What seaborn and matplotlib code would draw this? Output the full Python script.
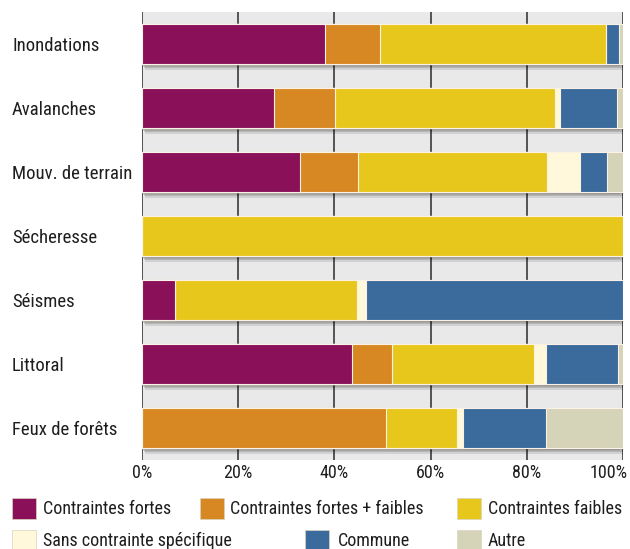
import matplotlib
matplotlib.use("Agg")
import matplotlib.pyplot as plt
from matplotlib import font_manager
from matplotlib.patches import Rectangle
from matplotlib.transforms import ScaledTranslation
import matplotlib.patheffects as pe
import numpy as np
import pandas as pd
import seaborn as sns

# Share of each constraint type by natural hazard (%)
categories = ["Inondations", "Avalanches", "Mouv. de terrain", "Sécheresse",
              "Séismes", "Littoral", "Feux de forêts"]
contraintes_fortes = [38.0, 27.4, 32.8, 0.0, 6.9, 43.7, 0.0]
contraintes_fortes_faibles = [11.4, 12.7, 12.1, 0.0, 0.0, 8.3, 50.7]
contraintes_faibles = [47.1, 45.7, 39.2, 100.0, 37.8, 29.4, 14.7]
sans_contrainte = [0.0, 1.0, 7.0, 0.0, 1.8, 2.5, 1.3]
commune = [2.7, 12.0, 5.6, 0.0, 53.5, 15.1, 17.2]
autre = [0.8, 1.2, 3.3, 0.0, 0.0, 1.0, 16.1]

series_names = ["Contraintes fortes", "Contraintes fortes + faibles",
                "Contraintes faibles", "Sans contrainte spécifique",
                "Commune", "Autre"]
series_values = [contraintes_fortes, contraintes_fortes_faibles,
                 contraintes_faibles, sans_contrainte, commune, autre]
series_colors = ["#8a1059", "#d88823", "#e8c71c", "#fff8da", "#3b6a9d", "#d5d3b8"]
tick_values = [0, 20, 40, 60, 80, 100]
tick_labels = ["0%", "20%", "40%", "60%", "80%", "100%"]

sns.set_theme(style="white")


def pick_font(cands):
    names = {f.name for f in font_manager.fontManager.ttflist}
    for c in cands:
        if c in names:
            return c
    return "DejaVu Sans"


font = pick_font(["Liberation Sans Narrow", "Roboto Condensed", "Lato", "Roboto", "DejaVu Sans"])
plt.rcParams["font.family"] = [font, "DejaVu Sans"]
text_color = "#1e1e1e"

W, H = 630, 549
fig = plt.figure(figsize=(W / 100, H / 100), dpi=100)
fig.patch.set_facecolor("white")
ax = fig.add_axes([142 / W, 1 - 460 / H, (623 - 142) / W, (460 - 12) / H])
ax.set_facecolor("#e9e9e9")

df = pd.DataFrame({"cat": categories})
cum = np.zeros(len(categories))
cum_cols = []
for name, vals in zip(series_names, series_values):
    cum = cum + np.array(vals)
    df[name] = cum.copy()
    cum_cols.append(name)

# stacked bars: draw cumulative totals from the outermost segment inwards
first = True
for name, color in reversed(list(zip(cum_cols, series_colors))):
    n_before = len(ax.patches)
    sns.barplot(data=df, x=name, y="cat", orient="y", color=color,
                width=0.62, errorbar=None, ax=ax, saturation=1,
                edgecolor="#fbf1e4", linewidth=0.8, zorder=3)
    if first:
        for p in ax.patches[n_before:]:
            p.set_path_effects([
                pe.SimplePatchShadow(offset=(0.5, -1.5), shadow_rgbFace="#000000", alpha=0.13),
                pe.SimplePatchShadow(offset=(1.5, -3.0), shadow_rgbFace="#000000", alpha=0.13),
                pe.SimplePatchShadow(offset=(2.5, -4.5), shadow_rgbFace="#000000", alpha=0.10),
                pe.SimplePatchShadow(offset=(-2.0, -2.5), shadow_rgbFace="#000000", alpha=0.08),
                pe.Normal(),
            ])
        first = False

ax.set_xlim(0, 100)
ax.set_ylim(len(categories) - 0.5, -0.5)
ax.set_xticks(tick_values)
ax.set_xticklabels(tick_labels, fontsize=13, color=text_color)
ax.set_xlabel("")
ax.set_ylabel("")
ax.xaxis.grid(True, color="#2b2b2b", linewidth=1.1, zorder=0)
ax.yaxis.grid(False)
ax.set_axisbelow(True)
for s in ax.spines.values():
    s.set_visible(False)
ax.tick_params(axis="x", length=0, pad=3)
ax.tick_params(axis="y", length=0, pad=130 * 0.72)
for lbl in ax.get_yticklabels():
    lbl.set_horizontalalignment("left")
    lbl.set_fontsize(13.5)
    lbl.set_color(text_color)
# keep the last percentage inside the figure
last = ax.get_xticklabels()[-1]
last.set_horizontalalignment("right")
last.set_transform(last.get_transform() + ScaledTranslation(3 / 72, 0, fig.dpi_scale_trans))

# legend laid out in two rows under the chart
legend_layout = [
    (12, 43, 498), (200, 230, 498), (457, 488, 498),
    (12, 43, 530), (305, 338, 530), (457, 488, 530),
]
for (px, tx, py), name, color in zip(legend_layout, series_names, series_colors):
    fig.add_artist(Rectangle((px / W, 1 - (py + 21) / H), 24 / W, 21 / H,
                             transform=fig.transFigure, facecolor=color,
                             edgecolor="#d9d4c0", linewidth=0.5))
    fig.text(tx / W, 1 - (py + 11) / H, name, fontsize=13, color=text_color,
             ha="left", va="center")

fig.savefig("out.png", dpi=100, facecolor="white")
